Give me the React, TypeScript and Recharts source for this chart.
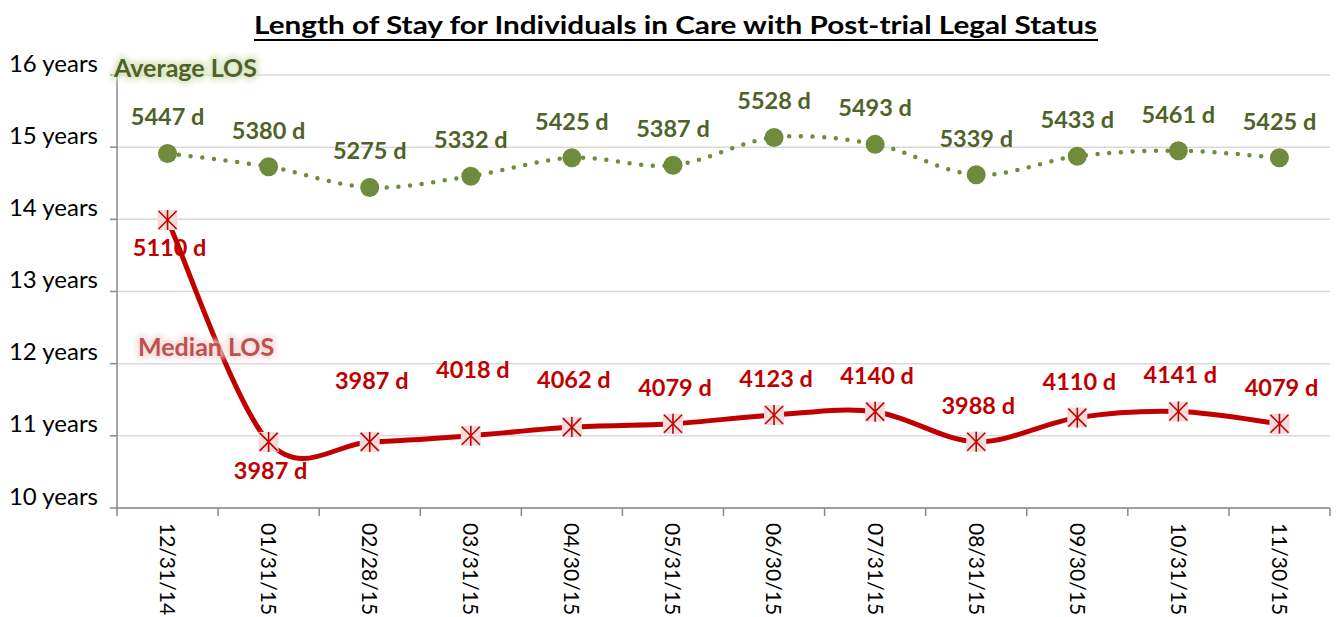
import React from "react";
import {
  LineChart,
  Line,
  XAxis,
  YAxis,
  CartesianGrid,
  LabelList,
} from "recharts";

const dates = [
  "12/31/14", "01/31/15", "02/28/15", "03/31/15", "04/30/15", "05/31/15",
  "06/30/15", "07/31/15", "08/31/15", "09/30/15", "10/31/15", "11/30/15",
];
const averageDays = [5447, 5380, 5275, 5332, 5425, 5387, 5528, 5493, 5339, 5433, 5461, 5425];
const medianDays = [5110, 3987, 3987, 4018, 4062, 4079, 4123, 4140, 3988, 4110, 4141, 4079];
const yearTicks = [10, 11, 12, 13, 14, 15, 16];

const DAYS_PER_YEAR = 365.25;

const data = dates.map((date, i) => ({
  date,
  avgDays: averageDays[i],
  medDays: medianDays[i],
  avgYears: averageDays[i] / DAYS_PER_YEAR,
  medYears: medianDays[i] / DAYS_PER_YEAR,
}));

const W = 1339;
const H = 617;
const LEFT = 117;
const RIGHT = 9;
const TOP = 75;
const BOTTOM = 109;
const PLOT_BOTTOM = H - BOTTOM;
const BAND = (W - LEFT - RIGHT) / dates.length;

const FONT = "Lato, 'Open Sans', sans-serif";
const GREEN = "#6F8B3C";
const GREEN_DARK = "#4F6228";
const RED = "#C00000";

// Excel-like smoothed line (Catmull-Rom through the points)
const excelSmooth = (context: any) => {
  let pts: number[][] = [];
  return {
    areaStart() {},
    areaEnd() {},
    lineStart() {
      pts = [];
    },
    point(x: number, y: number) {
      pts.push([+x, +y]);
    },
    lineEnd() {
      const n = pts.length;
      if (!n) return;
      context.moveTo(pts[0][0], pts[0][1]);
      for (let i = 0; i < n - 1; i++) {
        const p0 = pts[Math.max(0, i - 1)];
        const p1 = pts[i];
        const p2 = pts[i + 1];
        const p3 = pts[Math.min(n - 1, i + 2)];
        context.bezierCurveTo(
          p1[0] + (p2[0] - p0[0]) / 6,
          p1[1] + (p2[1] - p0[1]) / 6,
          p2[0] - (p3[0] - p1[0]) / 6,
          p2[1] - (p3[1] - p1[1]) / 6,
          p2[0],
          p2[1]
        );
      }
    },
  };
};

const YTick = ({ x, y, payload }: any) => (
  <text x={x} y={y - 12} dy="0.355em" textAnchor="end" fontFamily={FONT} fontSize={24} fill="#000">
    {payload.value} years
  </text>
);

const XTick = ({ x, payload, index }: any) => (
  <g>
    <line x1={x - BAND / 2} x2={x - BAND / 2} y1={PLOT_BOTTOM} y2={PLOT_BOTTOM + 8} stroke="#898989" strokeWidth={1.5} />
    {index === dates.length - 1 && (
      <line x1={x + BAND / 2} x2={x + BAND / 2} y1={PLOT_BOTTOM} y2={PLOT_BOTTOM + 8} stroke="#898989" strokeWidth={1.5} />
    )}
    <text
      transform={`translate(${x},${PLOT_BOTTOM + 15}) rotate(90)`}
      dy="0.36em"
      textAnchor="start"
      fontFamily={FONT}
      fontSize={21}
      fill="#000"
    >
      {payload.value}
    </text>
  </g>
);

const AvgDot = ({ cx, cy, index }: any) => (
  <circle key={`a${index}`} cx={cx} cy={cy} r={9.5} fill={GREEN} />
);

const MedDot = ({ cx, cy, index }: any) => (
  <g key={`m${index}`}>
    <rect x={cx - 10} y={cy - 10} width={20} height={20} fill="#F2DCDB" />
    <line x1={cx - 9} y1={cy - 9} x2={cx + 9} y2={cy + 9} stroke={RED} strokeWidth={1.6} />
    <line x1={cx - 9} y1={cy + 9} x2={cx + 9} y2={cy - 9} stroke={RED} strokeWidth={1.6} />
    <line x1={cx} y1={cy - 10} x2={cx} y2={cy + 10} stroke={RED} strokeWidth={1.6} />
  </g>
);

const avgLabel = (props: any) => {
  const { x, y, value, index } = props;
  return (
    <text key={`al${index}`} x={x} y={y - 28} textAnchor="middle" fontFamily={FONT} fontWeight={700} fontSize={23.5} fill={GREEN_DARK}>
      {value} d
    </text>
  );
};

const medOffsets: Record<number, number> = { 0: 36, 1: 37, 2: -53, 3: -58, 4: -39 };

const medLabel = (props: any) => {
  const { x, y, value, index } = props;
  const dy = medOffsets[index] ?? -28;
  return (
    <text key={`ml${index}`} x={x + 2} y={y + dy} textAnchor="middle" fontFamily={FONT} fontWeight={700} fontSize={23.5} fill={RED}>
      {value} d
    </text>
  );
};

const Glow = ({ x, y, text, fill, glow }: any) => (
  <g fontFamily={FONT} fontWeight={700} fontSize={25}>
    <text x={x} y={y} fill={glow} stroke={glow} strokeWidth={7} strokeLinejoin="round" filter="url(#soft)" opacity={0.8}>
      {text}
    </text>
    <text x={x} y={y} fill={fill}>
      {text}
    </text>
  </g>
);

export default function App() {
  return (
    <div style={{ position: "absolute", left: 0, top: 0, width: W, height: H, background: "#fff" }}>
      <LineChart width={W} height={H} data={data} margin={{ top: TOP, right: RIGHT, bottom: 0, left: 0 }}>
        <CartesianGrid horizontal vertical={false} stroke="#D9D9D9" strokeWidth={1.5} />
        <XAxis
          dataKey="date"
          height={BOTTOM}
          padding={{ left: BAND / 2, right: BAND / 2 }}
          axisLine={{ stroke: "#898989", strokeWidth: 1.5 }}
          tickLine={false}
          tick={<XTick />}
          interval={0}
        />
        <YAxis
          width={LEFT}
          domain={[10, 16]}
          ticks={yearTicks}
          allowDataOverflow
          axisLine={{ stroke: "#898989", strokeWidth: 1.5 }}
          tickLine={{ stroke: "#898989", strokeWidth: 1.5 }}
          tickSize={7}
          tickMargin={12}
          tick={<YTick />}
        />
        <Line
          dataKey="avgYears"
          type={excelSmooth as any}
          stroke={GREEN}
          strokeWidth={4.5}
          strokeDasharray="0 11.7"
          strokeLinecap="round"
          dot={<AvgDot />}
          isAnimationActive={false}
        >
          <LabelList dataKey="avgDays" content={avgLabel} />
        </Line>
        <Line
          dataKey="medYears"
          type={excelSmooth as any}
          stroke={RED}
          strokeWidth={5}
          dot={<MedDot />}
          isAnimationActive={false}
        >
          <LabelList dataKey="medDays" content={medLabel} />
        </Line>
      </LineChart>
      <svg width={W} height={H} style={{ position: "absolute", left: 0, top: 0, pointerEvents: "none" }}>
        <defs>
          <filter id="soft" x="-20%" y="-50%" width="140%" height="200%">
            <feGaussianBlur stdDeviation="2.5" />
          </filter>
        </defs>
        <text
          x={254}
          y={34}
          textLength={843}
          lengthAdjust="spacingAndGlyphs"
          fontFamily={FONT}
          fontWeight={700}
          fontSize={25}
          fill="#000"
        >
          Length of Stay for Individuals in Care with Post-trial Legal Status
        </text>
        <line x1={254} x2={1098} y1={40} y2={40} stroke="#000" strokeWidth={2} />
        <Glow x={114} y={77} text="Average LOS" fill={GREEN_DARK} glow="#D7E4BD" />
        <Glow x={138} y={356} text="Median LOS" fill="#C0504D" glow="#F2DCDB" />
      </svg>
    </div>
  );
}
